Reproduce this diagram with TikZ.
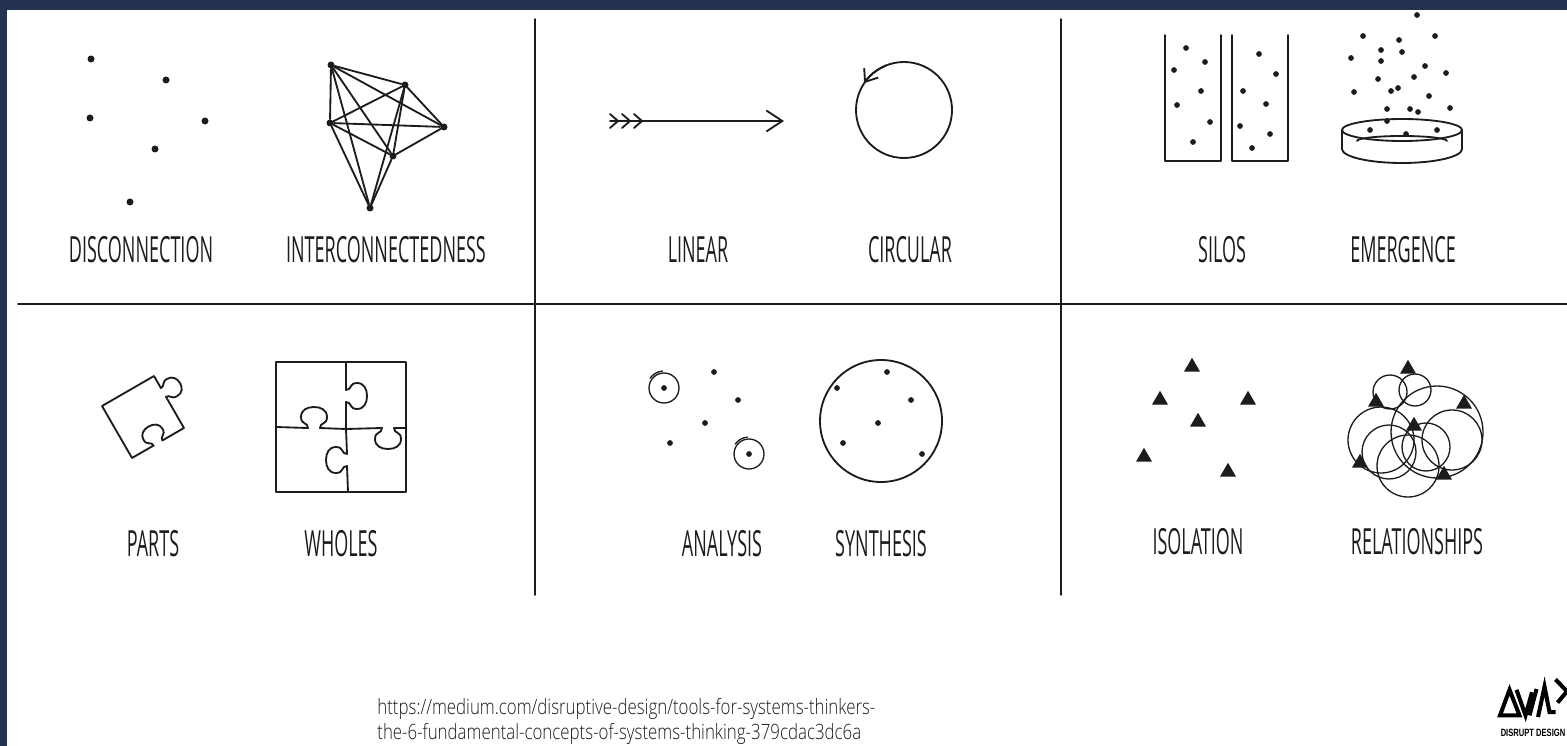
\documentclass[tikz,border=0pt]{standalone}
\usepackage{fontspec}
\usetikzlibrary{arrows.meta, shapes.geometric}
\newfontfamily\urlfont{Open Sans Light}[FakeStretch=0.8]
\newfontfamily\handfont{Open Sans}[FakeStretch=0.5]
\newfontfamily\brandfont{Liberation Sans}[FakeStretch=0.72]
\definecolor{navy}{HTML}{233251}
\definecolor{ink}{HTML}{1C1C1C}
\tikzset{
  every picture/.style={line cap=round, line join=round},
  divider/.style={draw=ink, line width=1.1pt},
  sketch/.style={draw=ink, line width=1.05pt},
  fine/.style={draw=ink, line width=0.75pt},
  dot/.style={circle, fill=ink, inner sep=0pt, minimum size=0.14cm},
  speck/.style={dot, minimum size=0.115cm},
  tri/.style={regular polygon, regular polygon sides=3, fill=ink, inner sep=0pt, minimum size=0.37cm},
  term/.style={font=\handfont\fontsize{20.5}{24}\selectfont, text=ink},
  link/.style={font=\urlfont\fontsize{12}{14}\selectfont, text=ink, anchor=base west, inner sep=0pt},
  brand/.style={font=\brandfont\bfseries\fontsize{6}{7}\selectfont, text=black, inner sep=0pt},
  logo stroke/.style={draw=black, line width=2.3pt, line cap=butt, line join=miter},
}

\begin{document}
\begin{tikzpicture}[x=0.02cm, y=0.02cm]
  \useasboundingbox (0,0) rectangle (1567,-746);
  \fill[navy] (0,0) rectangle (1567,-10);
  \fill[navy] (0,0) rectangle (7,-746);

  \draw[divider] (18,-304) -- (1567,-304);
  \draw[divider] (535,-19) -- (535,-595);
  \draw[divider] (1061,-19) -- (1061,-595);

  \foreach \x/\y [count=\i] in {91/59, 166/80, 90/118, 205/121, 155/149, 130/202}
    \node[dot] (dis\i) at (\x,-\y) {};
  \foreach \n/\x/\y in {a/331/65, b/405/85, c/330/123, d/444/127, e/393/156, f/370/208}
    \node[dot] (web-\n) at (\x,-\y) {};
  \foreach \s/\t in {a/b, a/c, a/d, a/e, a/f, b/c, b/d, b/e, b/f, c/d, c/e, c/f, d/e, e/f}
    \draw[sketch] (web-\s) -- (web-\t);

  \coordinate (lin-tail) at (610,-121);
  \coordinate (lin-head) at (784,-121);
  \draw[sketch, -{Straight Barb[length=0.32cm, width=0.42cm]}] (lin-tail) -- (lin-head);
  \foreach \dx in {0,12,24}
    \draw[sketch] (610+\dx,-114) -- (618+\dx,-121) -- (610+\dx,-128);
  \coordinate (loop) at (904,-110);
  \draw[sketch] (loop) circle (48);
  \draw[sketch, -{Straight Barb[length=0.22cm, width=0.34cm]}] (loop) ++(112:48) arc (112:146:48);

  \draw[sketch] (1165,-35) |- (1221,-161) -- (1221,-35);
  \draw[sketch] (1232,-35) |- (1288,-161) -- (1288,-35);
  \foreach \x/\y [count=\i] in {1186/48, 1205/62, 1174/70, 1201/91, 1177/105, 1210/122, 1193/142,
      1259/54, 1276/74, 1243/91, 1266/104, 1240/126, 1270/134, 1252/148}
    \node[speck] (silo\i) at (\x,-\y) {};

  \coordinate (dish) at (1402,-130);
  \draw[sketch] (dish) ellipse (60 and 11);
  \draw[sketch] (1342,-130) -- (1342,-149) arc (180:360:60 and 14) -- (1462,-130);
  \draw[sketch] (1357,-141) arc (180:0:45 and 5);
  \foreach \x/\y [count=\i] in {1417/15, 1363/36, 1435/36, 1399/40, 1381/50, 1402/52, 1351/58, 1381/61,
      1425/66, 1446/73, 1378/79, 1414/77, 1398/88, 1391/91, 1354/92, 1429/96, 1387/109, 1410/109,
      1418/112, 1450/108, 1387/121, 1370/130, 1406/134, 1437/130}
    \node[speck] (rise\i) at (\x,-\y) {};

  \node[term] (t-disc) at (141,-250) {DISCONNECTION};
  \node[term] (t-inter) at (386,-250) {INTERCONNECTEDNESS};
  \node[term] (t-lin) at (698,-250) {LINEAR};
  \node[term] (t-circ) at (910,-250) {CIRCULAR};
  \node[term] (t-silo) at (1222,-250) {SILOS};
  \node[term] (t-emer) at (1403,-250) {EMERGENCE};

  \begin{scope}[shift={(143,-417)}, rotate=30]
    \draw[sketch] (-30,30) -- (30,30) -- (30,16)
      .. controls (35,16) and (33,21) .. (40,21)
      .. controls (46,21) and (49,16) .. (49,11)
      .. controls (49,5) and (46,1) .. (40,1)
      .. controls (33,1) and (35,6) .. (30,6)
      -- (30,-30) -- (5,-30)
      .. controls (5,-25) and (11,-27) .. (11,-20)
      .. controls (11,-14) and (6,-11) .. (0,-11)
      .. controls (-6,-11) and (-11,-14) .. (-11,-20)
      .. controls (-11,-27) and (-5,-25) .. (-5,-30)
      -- (-30,-30) -- cycle;
  \end{scope}
  \begin{scope}[shift={(341,-427)}]
    \draw[sketch] (-65,-65) rectangle (65,65);
    \draw[sketch] (5,65) -- (5,37)
      .. controls (11,37) and (8,44) .. (16,44)
      .. controls (23,44) and (26,38) .. (26,31)
      .. controls (26,24) and (23,18) .. (16,18)
      .. controls (8,18) and (11,25) .. (5,25) -- (5,-2);
    \draw[sketch] (5,-2) -- (6,-27)
      .. controls (0,-27) and (3,-20) .. (-5,-20)
      .. controls (-12,-20) and (-15,-26) .. (-15,-33)
      .. controls (-15,-40) and (-12,-46) .. (-5,-46)
      .. controls (3,-46) and (0,-39) .. (6,-39) -- (7,-65);
    \draw[sketch] (-65,0) -- (-33,-1)
      .. controls (-33,5) and (-40,2) .. (-40,10)
      .. controls (-40,17) and (-34,20) .. (-27,20)
      .. controls (-20,20) and (-14,17) .. (-14,10)
      .. controls (-14,2) and (-21,5) .. (-21,-1) -- (5,-2);
    \draw[sketch] (5,-2) -- (41,-1)
      .. controls (41,-7) and (34,-4) .. (34,-12)
      .. controls (34,-19) and (40,-22) .. (47,-22)
      .. controls (54,-22) and (60,-19) .. (60,-12)
      .. controls (60,-4) and (53,-7) .. (53,-1) -- (65,-1);
  \end{scope}

  \foreach \x/\y [count=\i] in {664/388, 714/372, 738/400, 705/423, 670/443, 749/454}
    \node[speck] (ana\i) at (\x,-\y) {};
  \foreach \k in {1,6} {
    \draw[fine] (ana\k.center) circle (15);
    \draw[fine] (ana\k.center) ++(95:17) arc (95:145:17);
  }
  \coordinate (whole) at (881,-421);
  \draw[sketch] (whole) circle (61);
  \foreach \x/\y [count=\i] in {887/372, 837/388, 911/400, 878/423, 843/443, 922/454}
    \node[speck] (syn\i) at (\x,-\y) {};

  \foreach \x/\y [count=\i] in {1192/367, 1160/400, 1248/400, 1198/422, 1144/457, 1228/472}
    \node[tri] (iso\i) at (\x,-\y) {};
  \foreach \x/\y/\r in {1390/392/17, 1415/390/16, 1437/432/46, 1381/440/33, 1408/466/31,
      1426/447/24, 1389/452/27, 1452/440/30}
    \draw[fine] (\x,-\y) circle (\r);
  \foreach \x/\y [count=\i] in {1408/369, 1376/402, 1464/404, 1414/426, 1360/463, 1444/475}
    \node[tri] (rel\i) at (\x,-\y) {};

  \node[term] (t-parts) at (153,-544) {PARTS};
  \node[term] (t-whole) at (341,-544) {WHOLES};
  \node[term] (t-ana) at (722,-544) {ANALYSIS};
  \node[term] (t-syn) at (881,-544) {SYNTHESIS};
  \node[term] (t-iso) at (1198,-542) {ISOLATION};
  \node[term] (t-rel) at (1417,-542) {RELATIONSHIPS};

  \node[link] (src1) at (377,-714) {https://medium.com/disruptive-design/tools-for-systems-thinkers-};
  \node[link] (src2) at (377,-739) {the-6-fundamental-concepts-of-systems-thinking-379cdac3dc6a};

  \begin{scope}[shift={(1567,-705)}, xscale=0.5, yscale=0.8]
    \draw[logo stroke] (-134,-13) -- (-115,19) -- (-95,-13) -- cycle;
    \draw[logo stroke] (-101,19) -- (-83,-13) -- (-70,16);
    \draw[logo stroke] (-75,-13) -- (-61,20);
    \draw[logo stroke] (-58,-15) -- (-45,23) -- (-35,-9) -- (-23,-9);
    \draw[logo stroke] (-23,32) -- (0,17) -- (-19,3);
  \end{scope}
  \node[brand] (brand) at (1533,-733) {DISRUPT DESIGN};
\end{tikzpicture}
\end{document}
